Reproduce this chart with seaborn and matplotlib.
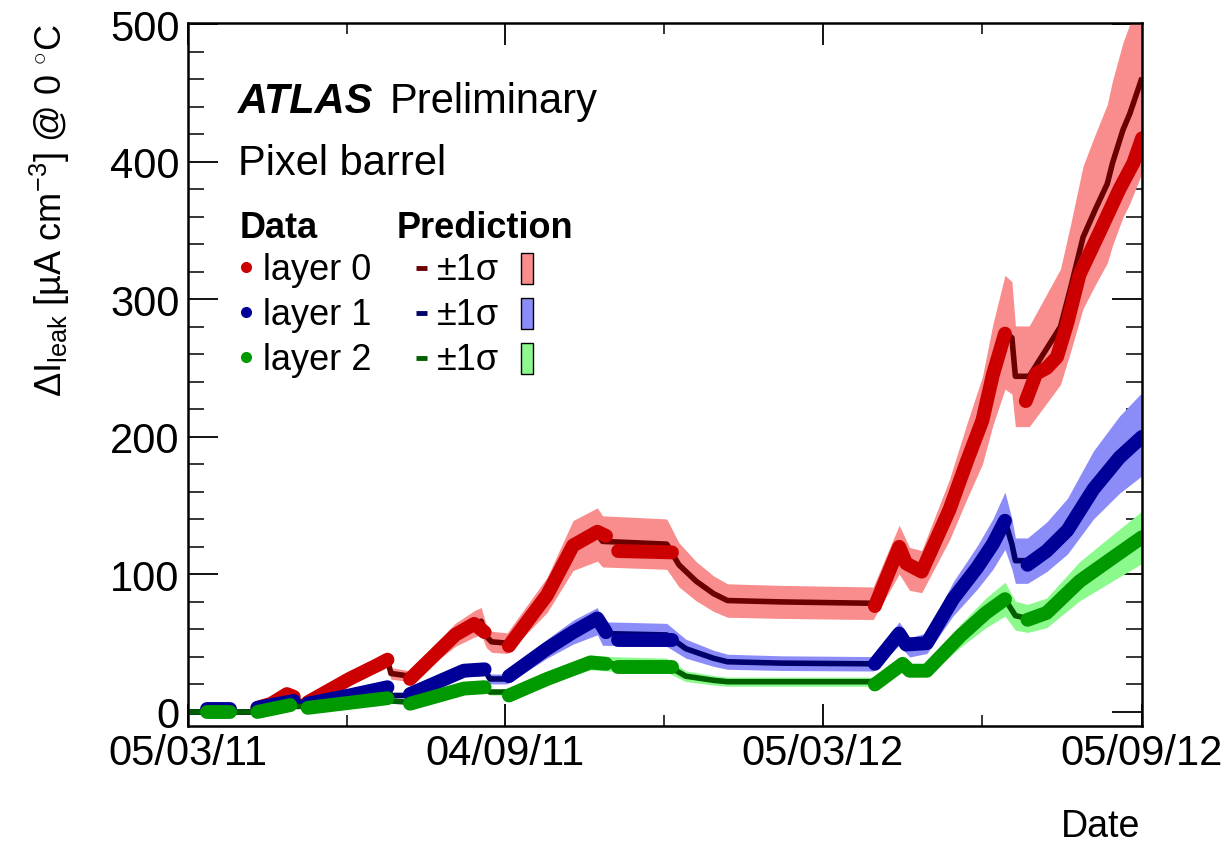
import matplotlib
matplotlib.use("Agg")
import matplotlib.pyplot as plt
import matplotlib.dates as mdates
from matplotlib.ticker import FixedLocator, MultipleLocator
from matplotlib.patches import Rectangle
from matplotlib.lines import Line2D
import numpy as np
import pandas as pd
import seaborn as sns

# ---------------------------------------------------------------------------
# Leakage current increase, pixel barrel layers (values in uA cm^-3 at 0 C)
# ---------------------------------------------------------------------------
LAYER_LABELS = ["layer 0", "layer 1", "layer 2"]

# layer 0: model prediction
L0_PRED_DATES = ["2011-03-05", "2011-04-12", "2011-04-22", "2011-05-03", "2011-05-06",
                 "2011-05-13", "2011-06-06", "2011-06-28", "2011-06-30", "2011-07-11",
                 "2011-08-06", "2011-08-17", "2011-08-21", "2011-08-24", "2011-08-27",
                 "2011-09-05", "2011-09-28", "2011-10-13", "2011-10-27", "2011-10-30",
                 "2011-12-06", "2011-12-13", "2011-12-23", "2012-01-02", "2012-01-10",
                 "2012-02-10", "2012-04-03", "2012-04-18", "2012-04-24", "2012-05-01",
                 "2012-05-17", "2012-05-27", "2012-06-05", "2012-06-11", "2012-06-18",
                 "2012-06-22", "2012-06-24", "2012-07-02", "2012-07-10", "2012-07-20",
                 "2012-07-26", "2012-08-02", "2012-08-09", "2012-08-16", "2012-08-19",
                 "2012-08-25", "2012-08-29", "2012-09-05"]
L0_PRED_VALUES = [0, 0, 5, 13, 8,
                  7, 24, 38, 28, 26,
                  56, 64, 66, 55, 51,
                  50, 85, 121, 129, 124,
                  122, 107, 95, 86, 81,
                  80, 79, 118, 104, 102,
                  147, 182, 212, 245, 276,
                  272, 244, 244, 260, 280,
                  309, 345, 365, 384, 399,
                  423, 435, 461]

# layer 0: measurements (one run of points per data-taking period)
L0_DATA_DATES = ["2011-03-16", "2011-03-29",
                 "2011-04-14", "2011-04-22", "2011-05-01", "2011-05-05",
                 "2011-05-13", "2011-06-06", "2011-06-22", "2011-06-28",
                 "2011-07-11", "2011-08-06", "2011-08-17", "2011-08-23",
                 "2011-09-06", "2011-09-28", "2011-10-13", "2011-10-27", "2011-11-01",
                 "2011-11-08", "2011-12-09",
                 "2012-04-04", "2012-04-18", "2012-04-22", "2012-05-01", "2012-05-17",
                 "2012-05-27", "2012-06-05", "2012-06-11", "2012-06-18",
                 "2012-06-30", "2012-07-06", "2012-07-12", "2012-07-18", "2012-07-24",
                 "2012-07-31", "2012-08-12", "2012-08-23", "2012-08-31", "2012-09-05"]
L0_DATA_VALUES = [1, 1,
                  3, 6, 13, 11,
                  7, 24, 34, 38,
                  24, 56, 64, 58,
                  48, 85, 121, 131, 128,
                  117, 116,
                  77, 120, 108, 102, 147,
                  182, 212, 245, 275,
                  226, 246, 250, 258, 283,
                  318, 350, 380, 399, 417]
L0_DATA_SEG = [0, 0,
               1, 1, 1, 1,
               2, 2, 2, 2,
               3, 3, 3, 3,
               4, 4, 4, 4, 4,
               5, 5,
               6, 6, 6, 6, 6, 6, 6, 6, 6,
               7, 7, 7, 7, 7, 7, 7, 7, 7, 7]

# layer 1: model prediction
L1_PRED_DATES = ["2011-03-05", "2011-04-12", "2011-04-22", "2011-05-05", "2011-05-07",
                 "2011-05-13", "2011-06-28", "2011-06-30", "2011-07-11", "2011-08-11",
                 "2011-08-23", "2011-08-26", "2011-09-05", "2011-09-28", "2011-10-13",
                 "2011-10-27", "2011-10-30", "2011-12-06", "2011-12-17", "2012-01-02",
                 "2012-01-10", "2012-02-10", "2012-04-03", "2012-04-18", "2012-04-24",
                 "2012-05-04", "2012-05-19", "2012-06-02", "2012-06-11", "2012-06-18",
                 "2012-06-22", "2012-06-24", "2012-07-01", "2012-07-12", "2012-07-24",
                 "2012-08-08", "2012-08-23", "2012-09-05"]
L1_PRED_VALUES = [0, 0, 5, 8, 6,
                  6, 18, 12, 12, 30,
                  31, 24, 24, 46, 58,
                  66, 57, 56, 46, 39,
                  36.5, 35.5, 35, 57, 47,
                  50, 82, 105, 122, 139,
                  122, 110, 110, 120, 135,
                  165, 187, 202]

# layer 1: measurements
L1_DATA_DATES = ["2011-03-16", "2011-03-29",
                 "2011-04-14", "2011-04-22", "2011-05-05",
                 "2011-05-13", "2011-06-06", "2011-06-28",
                 "2011-07-11", "2011-08-11", "2011-08-23",
                 "2011-09-06", "2011-09-28", "2011-10-13", "2011-10-27", "2011-11-01",
                 "2011-11-08", "2011-12-09",
                 "2012-04-04", "2012-04-18", "2012-04-22", "2012-05-04", "2012-05-19",
                 "2012-06-02", "2012-06-11", "2012-06-18",
                 "2012-07-01", "2012-07-12", "2012-07-24", "2012-08-08", "2012-08-23",
                 "2012-09-05"]
L1_DATA_VALUES = [2.5, 2.5,
                  3, 5, 8,
                  6, 12, 18,
                  13, 30, 31,
                  26, 46, 58, 68, 58,
                  52, 52,
                  35, 57, 49, 50, 82,
                  105, 122, 139,
                  107, 117, 132, 162, 185,
                  200]
L1_DATA_SEG = [0, 0,
               1, 1, 1,
               2, 2, 2,
               3, 3, 3,
               4, 4, 4, 4, 4,
               5, 5,
               6, 6, 6, 6, 6, 6, 6, 6,
               7, 7, 7, 7, 7, 7]

# layer 2: model prediction
L2_PRED_DATES = ["2011-03-05", "2011-04-14", "2011-05-03", "2011-05-06", "2011-05-13",
                 "2011-06-28", "2011-06-30", "2011-07-11", "2011-08-23", "2011-08-26",
                 "2011-09-05", "2011-09-28", "2011-10-23", "2011-11-03", "2011-12-06",
                 "2011-12-17", "2012-01-02", "2012-01-10", "2012-04-03", "2012-04-20",
                 "2012-04-24", "2012-05-04", "2012-05-23", "2012-06-07", "2012-06-18",
                 "2012-06-24", "2012-07-01", "2012-07-12", "2012-07-31", "2012-08-19",
                 "2012-09-05"]
L2_PRED_VALUES = [0, 0, 5, 4, 4,
                  10, 8, 7, 18, 14.5,
                  14.5, 24, 36, 35, 34,
                  26, 23, 22, 22, 35,
                  30, 30, 55, 72, 82,
                  70, 68, 72, 95, 112,
                  127]

# layer 2: measurements
L2_DATA_DATES = ["2011-03-16", "2011-03-29",
                 "2011-04-14", "2011-05-03",
                 "2011-05-13", "2011-06-28",
                 "2011-07-11", "2011-08-11", "2011-08-23",
                 "2011-09-06", "2011-09-28", "2011-10-23", "2011-11-01",
                 "2011-11-08", "2011-12-09",
                 "2012-04-04", "2012-04-20", "2012-04-24", "2012-05-04", "2012-05-23",
                 "2012-06-07", "2012-06-18",
                 "2012-07-01", "2012-07-12", "2012-07-31", "2012-08-19", "2012-09-05"]
L2_DATA_VALUES = [0, 0,
                  0, 5,
                  3, 10,
                  6, 17, 18,
                  12, 24, 36, 35,
                  33, 33,
                  20, 35, 30, 30, 55,
                  72, 82,
                  67, 72, 95, 112, 127]
L2_DATA_SEG = [0, 0,
               1, 1,
               2, 2,
               3, 3, 3,
               4, 4, 4, 4,
               5, 5,
               6, 6, 6, 6, 6, 6, 6,
               7, 7, 7, 7, 7]

# relative 1 sigma uncertainty of the prediction
REL_SIGMA = [0.15, 0.15, 0.15]

MAJOR_TICKS = ["2011-03-05", "2011-09-04", "2012-03-05", "2012-09-05"]
MINOR_TICKS = ["2011-06-04 12:00", "2011-12-04 12:00", "2012-06-05 00:00"]

DATA_COLORS = ["#cc0000", "#000099", "#009900"]
PRED_COLORS = ["#6a0000", "#00006a", "#006000"]
BAND_COLORS = ["#f98c8c", "#8c8cf9", "#8cf98c"]

# ---------------------------------------------------------------------------
sns.set_theme(style="ticks")
plt.rcParams["font.family"] = ["Liberation Sans", "DejaVu Sans"]
plt.rcParams["text.color"] = "black"
plt.rcParams["axes.labelcolor"] = "black"
plt.rcParams["mathtext.fontset"] = "custom"
plt.rcParams["mathtext.rm"] = "Liberation Sans"
plt.rcParams["mathtext.it"] = "Liberation Sans:italic"
plt.rcParams["mathtext.bf"] = "Liberation Sans:bold"

W, H = 1228, 845
fig = plt.figure(figsize=(W / 100, H / 100), dpi=100)
ax = fig.add_axes([188 / W, 1 - 727 / H, (1142 - 188) / W, (727 - 24) / H])
ax.set_facecolor("white")


def fx(px):
    return px / W


def fy(py):
    return 1 - py / H


layers = [
    (L0_PRED_DATES, L0_PRED_VALUES, L0_DATA_DATES, L0_DATA_VALUES, L0_DATA_SEG),
    (L1_PRED_DATES, L1_PRED_VALUES, L1_DATA_DATES, L1_DATA_VALUES, L1_DATA_SEG),
    (L2_PRED_DATES, L2_PRED_VALUES, L2_DATA_DATES, L2_DATA_VALUES, L2_DATA_SEG),
]

for i, (pd_dates, pd_vals, dd_dates, dd_vals, dd_seg) in enumerate(layers):
    pred = pd.DataFrame({"date": pd.to_datetime(pd_dates),
                         "value": np.asarray(pd_vals, dtype=float)})
    meas = pd.DataFrame({"date": pd.to_datetime(dd_dates),
                         "value": np.asarray(dd_vals, dtype=float),
                         "seg": dd_seg})
    base = 2 + 3 * i
    ax.fill_between(pred["date"], pred["value"] * (1 - REL_SIGMA[i]),
                    pred["value"] * (1 + REL_SIGMA[i]),
                    color=BAND_COLORS[i], lw=0, zorder=base)
    sns.lineplot(data=pred, x="date", y="value", ax=ax, color=PRED_COLORS[i],
                 lw=4.0, estimator=None, sort=False, zorder=base + 1,
                 solid_joinstyle="round", solid_capstyle="butt")
    sns.lineplot(data=meas, x="date", y="value", units="seg", ax=ax,
                 color=DATA_COLORS[i], lw=10, estimator=None, sort=False,
                 zorder=base + 2, solid_capstyle="round", solid_joinstyle="round")

# axes ranges and ticks
ax.set_xlim(pd.Timestamp("2011-03-05"), pd.Timestamp("2012-09-05"))
ax.set_ylim(-10.2, 500.8)
ax.xaxis.set_major_locator(FixedLocator(mdates.date2num(pd.to_datetime(MAJOR_TICKS))))
ax.xaxis.set_minor_locator(FixedLocator(mdates.date2num(pd.to_datetime(MINOR_TICKS))))
ax.xaxis.set_major_formatter(mdates.DateFormatter("%d/%m/%y"))
ax.yaxis.set_major_locator(MultipleLocator(100))
ax.yaxis.set_minor_locator(MultipleLocator(20))

ax.tick_params(axis="x", which="major", direction="in", length=15.5, width=1.3,
               top=True, bottom=True, labelsize=30, pad=5, colors="black")
ax.tick_params(axis="x", which="minor", direction="in", length=7.7, width=1.3,
               top=True, bottom=True)
ax.tick_params(axis="y", which="major", direction="in", length=21.5, width=1.3,
               left=True, right=True, labelsize=30, pad=6, colors="black")
ax.tick_params(axis="y", which="minor", direction="in", length=11.5, width=1.3,
               left=True, right=True)
for sp in ax.spines.values():
    sp.set_visible(True)
    sp.set_color("black")
    sp.set_linewidth(1.8)
    sp.set_zorder(20)

ax.set_ylabel("ΔI$_{\\mathrm{leak}}$ [µA cm$^{-3}$] @ 0 $^{\\circ}$C", fontsize=26,
              loc="top", color="black")
ax.yaxis.set_label_coords(-0.122, 1.0)
ax.set_xlabel("Date", fontsize=27, loc="right", color="black")
ax.xaxis.set_label_coords(0.998, -0.117)

# header texts
fig.text(fx(238), fy(113), "ATLAS", fontsize=30, fontweight="bold", style="italic",
         va="baseline", ha="left", color="black")
fig.text(fx(390), fy(113), "Preliminary", fontsize=30, va="baseline", ha="left",
         color="black")
fig.text(fx(238), fy(175), "Pixel barrel", fontsize=30, va="baseline", ha="left",
         color="black")

# legend
fig.text(fx(240), fy(238), "Data", fontsize=26, fontweight="bold", va="baseline",
         color="black")
fig.text(fx(397), fy(238), "Prediction", fontsize=26, fontweight="bold", va="baseline",
         color="black")
row_base = [280, 325, 370]
for i, lab in enumerate(LAYER_LABELS):
    b = row_base[i]
    fig.add_artist(Line2D([fx(246)], [fy(b - 12)], marker="o", ms=8, mew=0,
                          color=DATA_COLORS[i], transform=fig.transFigure))
    fig.text(fx(263), fy(b), lab, fontsize=26, va="baseline", color="black")
    fig.add_artist(Line2D([fx(416), fx(427)], [fy(b - 11), fy(b - 11)], lw=3.5,
                          color=PRED_COLORS[i], solid_capstyle="butt",
                          transform=fig.transFigure))
    fig.text(fx(437), fy(b), "±1σ", fontsize=26, va="baseline", color="black")
    fig.add_artist(Rectangle((fx(521), fy(b + 5)), 12 / W, 31 / H,
                             facecolor=BAND_COLORS[i], edgecolor="black", lw=1.0,
                             transform=fig.transFigure))

fig.savefig("out.png", dpi=100)
